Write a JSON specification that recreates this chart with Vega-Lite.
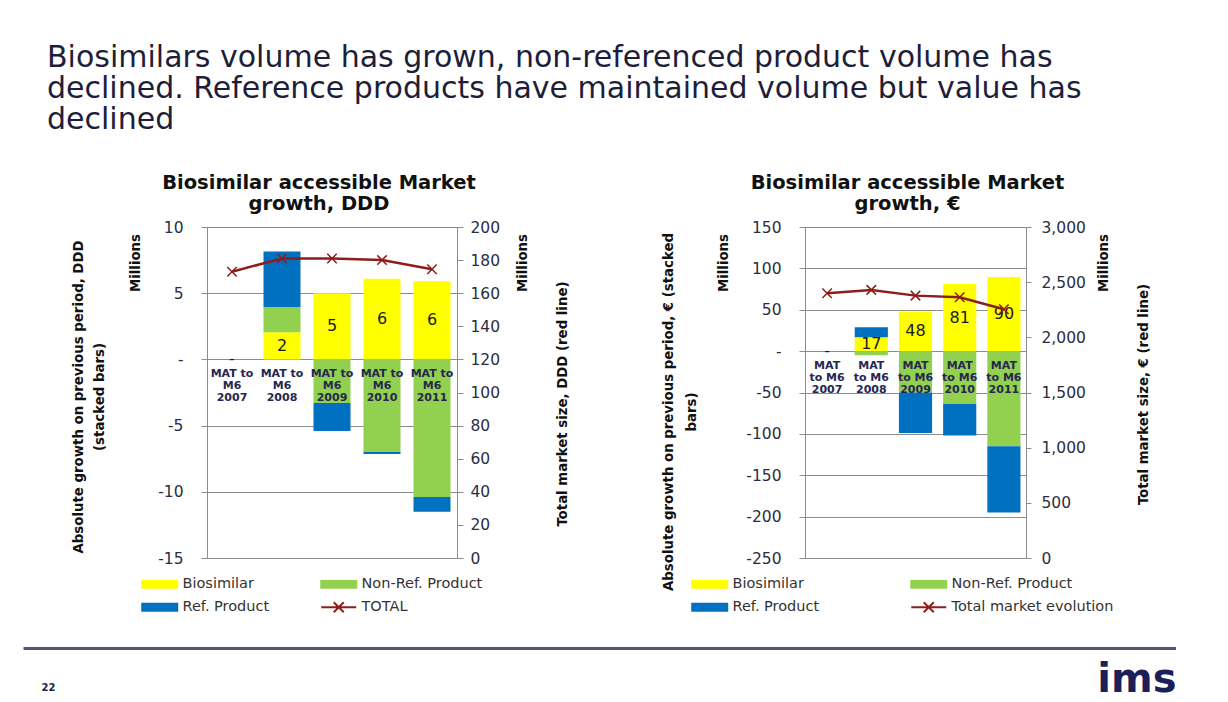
{
  "$schema": "https://vega.github.io/schema/vega-lite/v6.json",
  "background": "white",
  "padding": {"left": 20, "top": 43, "right": 0, "bottom": 0},
  "title": {
    "text": ["Biosimilars volume has grown, non-referenced product volume has", "declined. Reference products have maintained volume but value has", "declined"],
    "anchor": "start", "frame": "group", "dx": 24, "offset": 37,
    "font": "DejaVu Sans", "fontSize": 30, "fontWeight": "normal", "color": "#1e1e3a", "lineHeight": 31
  },
  "datasets": {
    "ddd_bars": [
      {"period": "2007", "series": "Biosimilar", "value": 0},
      {"period": "2007", "series": "Non-Ref. Product", "value": 0},
      {"period": "2007", "series": "Ref. Product", "value": 0},
      {"period": "2008", "series": "Biosimilar", "value": 2.05},
      {"period": "2008", "series": "Non-Ref. Product", "value": 1.9},
      {"period": "2008", "series": "Ref. Product", "value": 4.2},
      {"period": "2009", "series": "Biosimilar", "value": 5.0},
      {"period": "2009", "series": "Non-Ref. Product", "value": -3.3},
      {"period": "2009", "series": "Ref. Product", "value": -2.1},
      {"period": "2010", "series": "Biosimilar", "value": 6.1},
      {"period": "2010", "series": "Non-Ref. Product", "value": -7.0},
      {"period": "2010", "series": "Ref. Product", "value": -0.15},
      {"period": "2011", "series": "Biosimilar", "value": 5.9},
      {"period": "2011", "series": "Non-Ref. Product", "value": -10.4},
      {"period": "2011", "series": "Ref. Product", "value": -1.1}
    ],
    "ddd_total": [
      {"period": "2007", "total": 173},
      {"period": "2008", "total": 181},
      {"period": "2009", "total": 181},
      {"period": "2010", "total": 180},
      {"period": "2011", "total": 174.5}
    ],
    "eur_bars": [
      {"period": "2007", "series": "Biosimilar", "value": 0},
      {"period": "2007", "series": "Non-Ref. Product", "value": 0},
      {"period": "2007", "series": "Ref. Product", "value": 0},
      {"period": "2008", "series": "Biosimilar", "value": 16.8},
      {"period": "2008", "series": "Non-Ref. Product", "value": -5},
      {"period": "2008", "series": "Ref. Product", "value": 12},
      {"period": "2009", "series": "Biosimilar", "value": 48},
      {"period": "2009", "series": "Non-Ref. Product", "value": -50},
      {"period": "2009", "series": "Ref. Product", "value": -49},
      {"period": "2010", "series": "Biosimilar", "value": 81},
      {"period": "2010", "series": "Non-Ref. Product", "value": -64},
      {"period": "2010", "series": "Ref. Product", "value": -38},
      {"period": "2011", "series": "Biosimilar", "value": 89.6},
      {"period": "2011", "series": "Non-Ref. Product", "value": -115},
      {"period": "2011", "series": "Ref. Product", "value": -80}
    ],
    "eur_total": [
      {"period": "2007", "total": 2400},
      {"period": "2008", "total": 2430},
      {"period": "2009", "total": 2378},
      {"period": "2010", "total": 2364},
      {"period": "2011", "total": 2255}
    ]
  },
  "resolve": {"scale": {"x": "independent", "y": "independent", "color": "independent"}},
  "bounds": "flush",
  "spacing": 421,
  "vconcat": [
    {
      "resolve": {"scale": {"x": "independent", "y": "independent", "color": "independent"}},
      "bounds": "flush",
      "spacing": 0,
      "hconcat": [
        {
          "width": 184, "height": 331,
          "view": {"stroke": null},
          "data": {"values": [{"section": "spacer"}]},
          "mark": {"type": "point", "opacity": 0},
          "encoding": {
            "x": {"datum": 0, "type": "quantitative", "axis": null},
            "y": {"datum": 0, "type": "quantitative", "axis": null}
          }
        },
        {
          "width": 250, "height": 331,
          "title": {"text": ["Biosimilar accessible Market", "growth, DDD"], "font": "DejaVu Sans", "fontSize": 19.5, "fontWeight": "bold", "color": "#111111", "anchor": "middle", "dx": -13, "offset": 6, "lineHeight": 21},
          "resolve": {"scale": {"y": "independent"}},
          "layer": [
            {
              "data": {"name": "ddd_bars"},
              "transform": [{"calculate": "indexof(['Biosimilar', 'Non-Ref. Product', 'Ref. Product'], datum.series)", "as": "so"}],
              "mark": {"type": "bar"},
              "encoding": {
                "x": {"field": "period", "type": "nominal", "sort": null, "title": null,
                  "scale": {"paddingInner": 0.26, "paddingOuter": 0.13}, "axis": null},
                "y": {"field": "value", "type": "quantitative", "stack": "zero",
                  "scale": {"domain": [-15, 10], "nice": false, "zero": false},
                  "axis": {"orient": "left", "values": [-15, -10, -5, 0, 5, 10], "labelExpr": "datum.value === 0 ? '-' : '' + datum.value", "grid": true, "gridColor": "#8c8c8c", "domain": false, "tickSize": 6, "tickColor": "#8c8c8c", "labelPadding": 18, "labelFont": "DejaVu Sans", "labelFontSize": 15.5, "labelColor": "#2b2d42",
                    "encode": {"labels": {"update": {"dx": {"signal": "datum.value === 0 ? -13 : 0"}}}},
                    "title": "Millions", "titleX": -72, "titleY": 35.5, "titleAngle": 270, "titleAlign": "center", "titleBaseline": "middle", "titleFont": "DejaVu Sans Condensed", "titleFontSize": 14.8, "titleFontWeight": "bold", "titleColor": "#111111"}},
                "order": {"field": "so", "type": "quantitative"},
                "color": {"field": "series", "type": "nominal",
                  "scale": {"domain": ["Biosimilar", "Ref. Product", "Non-Ref. Product", "TOTAL"], "range": ["#FFFF00", "#0070C0", "#92D050", "#8E1D1D"]},
                  "legend": {"orient": "none", "legendX": -66, "legendY": 350, "columns": 2, "title": null,
                    "symbolType": "M-1,-0.58H4.83V0.58H-1Z", "symbolSize": 144, "labelFont": "DejaVu Sans", "labelFontSize": 14.5, "labelColor": "#333333", "labelOffset": 27, "labelLimit": 260, "columnPadding": 47, "rowPadding": 6,
                    "encode": {"symbols": {"update": {
                      "shape": {"signal": "datum.value === 'TOTAL' ? 'M-1,0H4.83M1.08,-0.83L2.75,0.83M1.08,0.83L2.75,-0.83' : 'M-1,-0.58H4.83V0.58H-1Z'"},
                      "fill": {"signal": "datum.value === 'TOTAL' ? 'transparent' : datum.value === 'Biosimilar' ? '#FFFF00' : datum.value === 'Non-Ref. Product' ? '#92D050' : '#0070C0'"},
                      "stroke": {"signal": "datum.value === 'TOTAL' ? '#8E1D1D' : 'transparent'"},
                      "strokeWidth": {"value": 2},
                      "opacity": {"value": 1}
                    }}}}}
              }
            },
            {
              "data": {"name": "ddd_bars"},
              "transform": [
                {"filter": "datum.series === 'Biosimilar'"},
                {"calculate": "datum.value / 2", "as": "mid"},
                {"calculate": "datum.value === 0 ? '-' : format(datum.value, '.0f')", "as": "lbl"}
              ],
              "mark": {"type": "text", "font": "DejaVu Sans", "fontSize": 16, "color": "#1a1a1a", "baseline": "middle"},
              "encoding": {
                "x": {"field": "period", "type": "nominal", "sort": null, "title": null, "axis": null},
                "y": {"field": "mid", "type": "quantitative", "scale": {"domain": [-15, 10], "nice": false, "zero": false}, "axis": null},
                "text": {"field": "lbl"}
              }
            },
            {
              "data": {"name": "ddd_total"},
              "transform": [{"calculate": "'MAT to|M6|' + datum.period", "as": "cat"}],
              "mark": {"type": "text", "lineBreak": "|", "font": "DejaVu Sans", "fontWeight": "bold", "fontSize": 11, "lineHeight": 11.7, "color": "#262650", "baseline": "top", "dy": 9},
              "encoding": {
                "x": {"field": "period", "type": "nominal", "sort": null, "title": null, "axis": null},
                "y": {"datum": 0, "type": "quantitative", "scale": {"domain": [-15, 10], "nice": false, "zero": false}, "axis": null},
                "text": {"field": "cat"}
              }
            },
            {
              "data": {"name": "ddd_total"},
              "mark": {"type": "line", "strokeWidth": 2.5, "point": {"shape": "M-1,-1L1,1M-1,1L1,-1", "filled": false, "size": 90, "strokeWidth": 1.5}},
              "encoding": {
                "x": {"field": "period", "type": "nominal", "sort": null, "title": null, "axis": null},
                "y": {"field": "total", "type": "quantitative",
                  "scale": {"domain": [0, 200], "nice": false},
                  "axis": {"orient": "right", "values": [0, 20, 40, 60, 80, 100, 120, 140, 160, 180, 200], "grid": false, "domain": false, "tickSize": 6, "tickColor": "#8c8c8c", "labelPadding": 7, "labelFont": "DejaVu Sans", "labelFontSize": 15.5, "labelColor": "#2b2d42",
                    "title": "Millions", "titleX": 65.7, "titleY": 35.5, "titleAngle": 270, "titleAlign": "center", "titleBaseline": "middle", "titleFont": "DejaVu Sans Condensed", "titleFontSize": 14.8, "titleFontWeight": "bold", "titleColor": "#111111"}},
                "color": {"datum": "TOTAL", "type": "nominal", "legend": null}
              }
            },
            {
              "data": {"name": "ddd_total"},
              "mark": {"type": "point", "opacity": 0},
              "encoding": {
                "x": {"field": "period", "type": "nominal", "sort": null, "title": null, "axis": null},
                "y": {"field": "total", "type": "quantitative", "scale": {"domain": [0, 200]},
                  "axis": {"orient": "left", "labels": false, "ticks": false, "domain": false, "grid": false,
                    "title": ["Absolute growth on previous period, DDD", "(stacked bars)"], "titleX": -129, "titleY": 169.5, "titleAngle": 270, "titleAlign": "center", "titleBaseline": "middle", "titleLineHeight": 21.5, "titleFont": "DejaVu Sans Condensed", "titleFontSize": 14.8, "titleFontWeight": "bold", "titleColor": "#111111"}}
              }
            },
            {
              "data": {"name": "ddd_total"},
              "mark": {"type": "point", "opacity": 0},
              "encoding": {
                "x": {"field": "period", "type": "nominal", "sort": null, "title": null, "axis": null},
                "y": {"field": "total", "type": "quantitative", "scale": {"domain": [0, 200]},
                  "axis": {"orient": "right", "labels": false, "ticks": false, "domain": false, "grid": false,
                    "title": "Total market size, DDD (red line)", "titleX": 105, "titleY": 176.5, "titleAngle": 270, "titleAlign": "center", "titleBaseline": "middle", "titleFont": "DejaVu Sans Condensed", "titleFontSize": 14.8, "titleFontWeight": "bold", "titleColor": "#111111"}}
              }
            }
          ]
        },
        {
          "width": 348, "height": 331,
          "view": {"stroke": null},
          "data": {"values": [{"section": "spacer"}]},
          "mark": {"type": "point", "opacity": 0},
          "encoding": {
            "x": {"datum": 0, "type": "quantitative", "axis": null},
            "y": {"datum": 0, "type": "quantitative", "axis": null}
          }
        },
        {
          "width": 221, "height": 331,
          "title": {"text": ["Biosimilar accessible Market", "growth, €"], "font": "DejaVu Sans", "fontSize": 19.5, "fontWeight": "bold", "color": "#111111", "anchor": "middle", "dx": -8, "offset": 6, "lineHeight": 21},
          "resolve": {"scale": {"y": "independent"}},
          "layer": [
            {
              "data": {"name": "eur_bars"},
              "transform": [{"calculate": "indexof(['Biosimilar', 'Non-Ref. Product', 'Ref. Product'], datum.series)", "as": "so"}],
              "mark": {"type": "bar"},
              "encoding": {
                "x": {"field": "period", "type": "nominal", "sort": null, "title": null,
                  "scale": {"paddingInner": 0.25, "paddingOuter": 0.125}, "axis": null},
                "y": {"field": "value", "type": "quantitative", "stack": "zero",
                  "scale": {"domain": [-250, 150], "nice": false, "zero": false},
                  "axis": {"orient": "left", "values": [-250, -200, -150, -100, -50, 0, 50, 100, 150], "labelExpr": "datum.value === 0 ? '-' : '' + datum.value", "grid": true, "gridColor": "#8c8c8c", "domain": false, "tickSize": 6, "tickColor": "#8c8c8c", "labelPadding": 18, "labelFont": "DejaVu Sans", "labelFontSize": 15.5, "labelColor": "#2b2d42",
                    "encode": {"labels": {"update": {"dx": {"signal": "datum.value === 0 ? -13 : 0"}}}},
                    "title": "Millions", "titleX": -82, "titleY": 35.5, "titleAngle": 270, "titleAlign": "center", "titleBaseline": "middle", "titleFont": "DejaVu Sans Condensed", "titleFontSize": 14.8, "titleFontWeight": "bold", "titleColor": "#111111"}},
                "order": {"field": "so", "type": "quantitative"},
                "color": {"field": "series", "type": "nominal",
                  "scale": {"domain": ["Biosimilar", "Ref. Product", "Non-Ref. Product", "Total market evolution"], "range": ["#FFFF00", "#0070C0", "#92D050", "#8E1D1D"]},
                  "legend": {"orient": "none", "legendX": -114, "legendY": 350, "columns": 2, "title": null,
                    "symbolType": "M-1,-0.58H4.83V0.58H-1Z", "symbolSize": 144, "labelFont": "DejaVu Sans", "labelFontSize": 14.5, "labelColor": "#333333", "labelOffset": 27, "labelLimit": 260, "columnPadding": 87, "rowPadding": 6,
                    "encode": {"symbols": {"update": {
                      "shape": {"signal": "datum.value === 'Total market evolution' ? 'M-1,0H4.83M1.08,-0.83L2.75,0.83M1.08,0.83L2.75,-0.83' : 'M-1,-0.58H4.83V0.58H-1Z'"},
                      "fill": {"signal": "datum.value === 'Total market evolution' ? 'transparent' : datum.value === 'Biosimilar' ? '#FFFF00' : datum.value === 'Non-Ref. Product' ? '#92D050' : '#0070C0'"},
                      "stroke": {"signal": "datum.value === 'Total market evolution' ? '#8E1D1D' : 'transparent'"},
                      "strokeWidth": {"value": 2},
                      "opacity": {"value": 1}
                    }}}}}
              }
            },
            {
              "data": {"name": "eur_bars"},
              "transform": [
                {"filter": "datum.series === 'Biosimilar'"},
                {"calculate": "datum.value / 2", "as": "mid"},
                {"calculate": "datum.value === 0 ? '-' : format(datum.value, '.0f')", "as": "lbl"}
              ],
              "mark": {"type": "text", "font": "DejaVu Sans", "fontSize": 16, "color": "#1a1a1a", "baseline": "middle"},
              "encoding": {
                "x": {"field": "period", "type": "nominal", "sort": null, "title": null, "axis": null},
                "y": {"field": "mid", "type": "quantitative", "scale": {"domain": [-250, 150], "nice": false, "zero": false}, "axis": null},
                "text": {"field": "lbl"}
              }
            },
            {
              "data": {"name": "eur_total"},
              "transform": [{"calculate": "'MAT|to M6|' + datum.period", "as": "cat"}],
              "mark": {"type": "text", "lineBreak": "|", "font": "DejaVu Sans", "fontWeight": "bold", "fontSize": 11, "lineHeight": 11.7, "color": "#262650", "baseline": "top", "dy": 9},
              "encoding": {
                "x": {"field": "period", "type": "nominal", "sort": null, "title": null, "axis": null},
                "y": {"datum": 0, "type": "quantitative", "scale": {"domain": [-250, 150], "nice": false, "zero": false}, "axis": null},
                "text": {"field": "cat"}
              }
            },
            {
              "data": {"name": "eur_total"},
              "mark": {"type": "line", "strokeWidth": 2.5, "point": {"shape": "M-1,-1L1,1M-1,1L1,-1", "filled": false, "size": 90, "strokeWidth": 1.5}},
              "encoding": {
                "x": {"field": "period", "type": "nominal", "sort": null, "title": null, "axis": null},
                "y": {"field": "total", "type": "quantitative",
                  "scale": {"domain": [0, 3000], "nice": false},
                  "axis": {"orient": "right", "values": [0, 500, 1000, 1500, 2000, 2500, 3000], "labelExpr": "format(datum.value, ',')", "grid": false, "domain": false, "tickSize": 5, "tickColor": "#8c8c8c", "labelPadding": 10, "labelFont": "DejaVu Sans", "labelFontSize": 15.5, "labelColor": "#2b2d42",
                    "title": "Millions", "titleX": 77, "titleY": 35.5, "titleAngle": 270, "titleAlign": "center", "titleBaseline": "middle", "titleFont": "DejaVu Sans Condensed", "titleFontSize": 14.8, "titleFontWeight": "bold", "titleColor": "#111111"}},
                "color": {"datum": "Total market evolution", "type": "nominal", "legend": null}
              }
            },
            {
              "data": {"name": "eur_total"},
              "mark": {"type": "point", "opacity": 0},
              "encoding": {
                "x": {"field": "period", "type": "nominal", "sort": null, "title": null, "axis": null},
                "y": {"field": "total", "type": "quantitative", "scale": {"domain": [0, 3000]},
                  "axis": {"orient": "left", "labels": false, "ticks": false, "domain": false, "grid": false,
                    "title": ["Absolute growth on previous period, € (stacked", "bars)"], "titleX": -137, "titleY": 184.5, "titleAngle": 270, "titleAlign": "center", "titleBaseline": "middle", "titleLineHeight": 23, "titleFont": "DejaVu Sans Condensed", "titleFontSize": 14.8, "titleFontWeight": "bold", "titleColor": "#111111"}}
              }
            },
            {
              "data": {"name": "eur_total"},
              "mark": {"type": "point", "opacity": 0},
              "encoding": {
                "x": {"field": "period", "type": "nominal", "sort": null, "title": null, "axis": null},
                "y": {"field": "total", "type": "quantitative", "scale": {"domain": [0, 3000]},
                  "axis": {"orient": "right", "labels": false, "ticks": false, "domain": false, "grid": false,
                    "title": "Total market size, € (red line)", "titleX": 117, "titleY": 167, "titleAngle": 270, "titleAlign": "center", "titleBaseline": "middle", "titleFont": "DejaVu Sans Condensed", "titleFontSize": 14.8, "titleFontWeight": "bold", "titleColor": "#111111"}}
              }
            }
          ]
        }
      ]
    },
    {
      "width": 1153, "height": 45,
      "view": {"stroke": null},
      "data": {"values": [{"section": "footer"}]},
      "mark": {"type": "point", "opacity": 0},
      "encoding": {
        "x": {"datum": 0, "type": "quantitative",
          "axis": {"orient": "top", "domain": true, "domainColor": "#4f5675", "domainWidth": 3, "labels": false, "ticks": false, "grid": false,
            "title": "22", "titleX": 18, "titleY": 42, "titleAlign": "left", "titleBaseline": "alphabetic", "titleFont": "DejaVu Sans", "titleFontSize": 10, "titleFontWeight": "bold", "titleColor": "#1c1f4a"}},
        "y": {"datum": 0, "type": "quantitative",
          "axis": {"orient": "right", "domain": false, "labels": false, "ticks": false, "grid": false,
            "title": "ims", "titleX": 0, "titleY": 43, "titleAngle": 0, "titleAlign": "right", "titleBaseline": "alphabetic", "titleFont": "DejaVu Sans", "titleFontSize": 40, "titleFontWeight": "bold", "titleColor": "#1c1f5a"}}
      }
    }
  ],
  "config": {
    "view": {"stroke": "#8c8c8c", "strokeWidth": 1},
    "font": "DejaVu Sans"
  }
}
